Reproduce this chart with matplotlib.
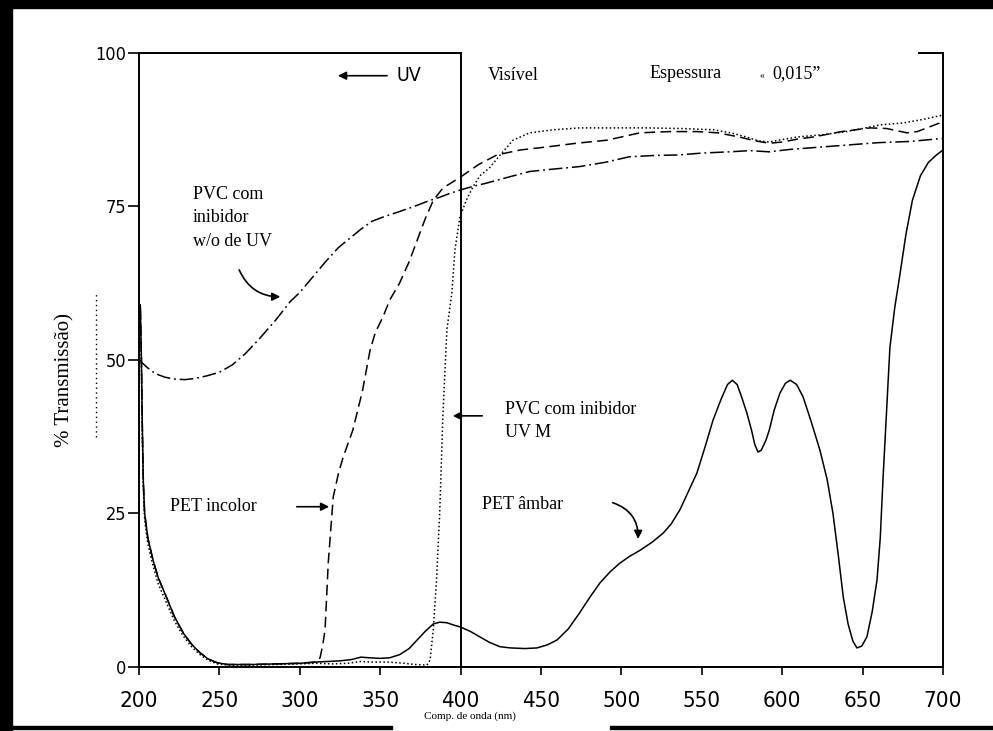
import matplotlib
matplotlib.use("Agg")
import matplotlib.pyplot as plt
from matplotlib import font_manager
from matplotlib.patches import Rectangle

# PET ambar (solid)
ambar_x = [200, 200.8, 201.5, 202, 202.7, 203.5, 205.5, 208.7, 212, 217, 222, 227.6, 233, 238,
           243, 248.5, 255, 270, 285, 300, 310, 318, 325, 332, 338, 343, 350, 356, 362, 368,
           373, 378, 383, 387, 391.5, 396, 400, 406, 412, 418, 424.5, 431, 440, 447.5, 454,
           460, 467, 474, 480, 486.7, 493, 499, 505, 511.6, 519, 526, 531, 536.4, 541, 547,
           552, 557, 562, 566, 569, 572, 575, 578, 581, 583, 585, 587, 590, 592, 595, 598.6,
           602, 605, 609, 613, 618, 623.5, 628, 631.6, 635, 638, 641, 644, 646.5, 649.5,
           652.7, 656, 659, 661, 662.7, 665, 667, 670, 673, 677, 681, 686, 691, 696, 700]
ambar_y = [57, 59, 50, 40, 30, 25, 21, 17.4, 14.5, 11.4, 8.2, 5.5, 3.6, 2.3,
           1.3, 0.7, 0.4, 0.4, 0.5, 0.6, 0.8, 0.9, 1.0, 1.2, 1.6, 1.5, 1.4, 1.5, 2.0, 3.0,
           4.4, 5.8, 7.0, 7.3, 7.2, 6.8, 6.5, 5.8, 4.9, 4.0, 3.3, 3.1, 3.0, 3.1, 3.6,
           4.4, 6.2, 8.8, 11.2, 13.7, 15.5, 16.9, 18.0, 19.0, 20.3, 21.8, 23.3, 25.6, 28.2, 31.6,
           35.8, 40.2, 43.6, 46.0, 46.7, 46.0, 43.8, 41.4, 38.5, 36.2, 35.0, 35.3, 37.0, 38.6, 41.8, 44.6,
           46.2, 46.7, 46.0, 44.0, 40.0, 35.3, 30.5, 25.0, 18.0, 11.4, 7.0, 4.2, 3.1, 3.4,
           4.9, 9.0, 14.2, 21.0, 30.5, 42.0, 52.0, 58.5, 63.5, 70.5, 76.0, 80.0, 82.2, 83.4, 84.2]

# PET incolor (dashed)
incolor_x = [200, 200.8, 201.5, 202, 202.7, 203.5, 205.5, 208.7, 212, 217, 222, 227.6, 233, 238,
             243, 248.5, 255, 270, 285, 300, 310, 312.6, 314.2, 315.7, 317.7, 320.8, 324, 327,
             333, 339, 343.7, 347, 351.7, 356, 362, 368, 373, 378, 383, 389, 400, 411, 422.6,
             437, 453.7, 472, 491, 511.6, 530, 547, 560, 573.7, 583, 592, 600, 610, 619, 637,
             654.6, 665, 672, 677.6, 684, 692, 700]
incolor_y = [57, 59, 50, 40, 30, 25, 21, 17.4, 14.5, 11.4, 8.2, 5.5, 3.6, 2.3,
             1.3, 0.7, 0.4, 0.4, 0.5, 0.6, 0.8, 1.5, 3.5, 6.0, 17.0, 27.7, 31.5, 34.2,
             38.6, 45.0, 51.6, 54.5, 57.0, 59.8, 62.5, 66.0, 69.5, 73.0, 76.0, 78.0, 79.8, 81.8, 83.4,
             84.2, 84.7, 85.3, 85.8, 87.0, 87.2, 87.2, 87.0, 86.3, 85.7, 85.3, 85.5, 86.0, 86.3, 87.2,
             87.8, 87.7, 87.3, 87.0, 87.2, 88.0, 88.8]

# PVC com inibidor UV M (dotted)
uvm_x = [200, 200.8, 201.5, 202, 202.7, 203.5, 205.5, 208.7, 212, 217, 222, 227.6, 233, 238,
         243, 248.5, 255, 270, 285, 300, 310, 320, 330, 338, 345, 355, 365, 372, 379, 381,
         383, 385, 387, 389, 391.5, 394.6, 396.5, 399.6, 403.5, 407.7, 412, 418, 425, 432.6,
         443, 458, 474, 495, 516, 537, 557, 568, 578, 585, 592, 600, 609, 625, 640, 650,
         661, 675, 688, 700]
uvm_y = [56, 58, 48, 38, 29, 24, 20, 16.5, 13.5, 10.5, 7.5, 5.0, 3.2, 2.0,
         1.1, 0.5, 0.3, 0.3, 0.4, 0.5, 0.6, 0.5, 0.6, 0.9, 0.8, 0.8, 0.6, 0.4, 0.3, 1.1,
         6.0, 14.0, 25.0, 41.0, 55.0, 61.0, 68.0, 73.3, 76.0, 78.2, 80.0, 81.3, 83.5, 85.8,
         87.0, 87.5, 87.8, 87.8, 87.8, 87.7, 87.5, 87.0, 86.3, 85.7, 85.5, 85.9, 86.3, 86.7, 87.2, 87.7,
         88.3, 88.6, 89.2, 89.9]

# PVC com inibidor w/o de UV (dash-dot)
wo_x = [200, 205, 210, 216, 222, 228.6, 235, 242, 250, 258, 266, 275, 285, 294, 300, 308, 316,
        324, 331, 338, 345, 352, 360, 370, 380, 387, 393, 400, 408, 416, 430, 443, 458, 474,
        490, 505, 520, 536, 550, 567, 580, 592, 605, 620, 640, 660, 680, 700]
wo_y = [50, 48.8, 47.8, 47.2, 46.9, 46.8, 47.0, 47.4, 48.0, 49.2, 51.0, 53.5, 56.5, 59.5, 61.0, 63.5, 66.0,
        68.3, 69.8, 71.3, 72.6, 73.3, 74.0, 74.9, 75.9, 76.5, 77.1, 77.7, 78.3, 78.8, 79.8, 80.7, 81.1, 81.5,
        82.2, 83.1, 83.3, 83.4, 83.7, 83.9, 84.1, 83.9, 84.3, 84.6, 85.0, 85.4, 85.6, 86.1]

xticks = [200, 250, 300, 350, 400, 450, 500, 550, 600, 650, 700]
yticks = [0, 25, 50, 75, 100]

serif = ["Liberation Serif", "DejaVu Serif"]

# look for a condensed sans face for the tick labels (plotter font is narrow)
narrow_fp = None
for f in font_manager.fontManager.ttflist:
    st = str(f.stretch)
    if ("condensed" in st or st in ("semi-condensed", "ultra-condensed")
            or "Narrow" in f.name or "Condensed" in f.name) and f.style == "normal" \
            and f.weight in (400, "normal", "regular"):
        narrow_fp = font_manager.FontProperties(fname=f.fname)
        break
if narrow_fp is None:
    narrow_fp = font_manager.FontProperties(family="Liberation Sans")

fig = plt.figure(figsize=(9.93, 7.31), dpi=100)
ax = fig.add_axes([0.140, 0.0876, 0.8096, 0.8399])

lw = 1.1
ax.plot(ambar_x, ambar_y, color="black", lw=lw)
ax.plot(incolor_x, incolor_y, color="black", lw=lw, ls=(0, (7, 3.5)))
ax.plot(uvm_x, uvm_y, color="black", lw=lw, ls=(0, (1, 1.6)))
ax.plot(wo_x, wo_y, color="black", lw=lw, ls=(0, (9, 2.5, 1.2, 2.5)))

ax.set_xlim(200, 700)
ax.set_ylim(0, 100)
ax.axvline(400, color="black", lw=1.4)

for s in ax.spines.values():
    s.set_linewidth(1.4)
ax.spines["top"].set_bounds(200, 400)
ax.axhline(100, xmin=0.97, xmax=1.0, color="black", lw=1.4, clip_on=False)

ax.set_xticks(xticks)
ax.set_yticks(yticks)
ax.tick_params(axis="x", direction="out", length=6, width=1.2, pad=11)
ax.tick_params(axis="y", direction="out", length=8, width=1.2, pad=1)
for lab in ax.get_xticklabels():
    lab.set_fontproperties(narrow_fp)
    lab.set_fontsize(16)
for lab in ax.get_yticklabels():
    lab.set_fontproperties(narrow_fp)
    lab.set_fontsize(13)

# annotations
ax.annotate("", xy=(322, 96.3), xytext=(356, 96.3),
            arrowprops=dict(arrowstyle="-|>", color="black", lw=1.2, mutation_scale=12))
ax.text(360.4, 96.3, "UV", fontproperties=narrow_fp, fontsize=14, va="center", ha="left")
ax.text(417, 96.4, "Visível", family=serif, fontsize=13, va="center", ha="left")
ax.text(517.8, 96.6, "Espessura", family=serif, fontsize=13, va="center", ha="left")
ax.text(586, 96.3, "«", family=serif, fontsize=7, va="center", ha="left")
ax.text(594, 96.6, "0,015”", family=serif, fontsize=13, va="center", ha="left")

ax.text(233.6, 73.2, "PVC com\ninibidor\nw/o de UV", family=serif, fontsize=13,
        va="center", ha="left", linespacing=1.5)
ax.annotate("", xy=(289.6, 60.3), xytext=(261.6, 65.1),
            arrowprops=dict(arrowstyle="-|>", color="black", lw=1.2, mutation_scale=12,
                            connectionstyle="arc3,rad=0.35"))

ax.text(219.3, 26.1, "PET incolor", family=serif, fontsize=13, va="center", ha="left")
ax.annotate("", xy=(320, 26.1), xytext=(296.4, 26.1),
            arrowprops=dict(arrowstyle="-|>", color="black", lw=1.2, mutation_scale=12))

ax.text(427.6, 40.1, "PVC com inibidor\nUV M", family=serif, fontsize=13,
        va="center", ha="left", linespacing=1.5)
ax.annotate("", xy=(393.4, 40.9), xytext=(415.2, 40.9),
            arrowprops=dict(arrowstyle="-|>", color="black", lw=1.2, mutation_scale=12))

ax.text(413.3, 26.4, "PET âmbar", family=serif, fontsize=13, va="center", ha="left")
ax.annotate("", xy=(510.3, 20.4), xytext=(492.9, 26.9),
            arrowprops=dict(arrowstyle="-|>", color="black", lw=1.2, mutation_scale=12,
                            connectionstyle="arc3,rad=-0.4"))

fig.text(0.0655, 0.48, "% Transmissão)", family=serif, fontsize=15, rotation=90,
         va="center", ha="center")
fig.add_artist(plt.Line2D([0.0967, 0.0967], [0.402, 0.599], color="black", lw=1.0,
                          ls=(0, (1, 2.5)), transform=fig.transFigure))
fig.text(0.473, 0.02, "Comp. de onda (nm)", family=serif, fontsize=8, va="center", ha="center")

# scan frame
fig.add_artist(Rectangle((0, 0), 0.012, 1, color="black", transform=fig.transFigure))
fig.add_artist(Rectangle((0, 0.989), 1, 0.011, color="black", transform=fig.transFigure))
fig.add_artist(Rectangle((0, 0.003), 0.395, 0.004, color="black", transform=fig.transFigure))
fig.add_artist(Rectangle((0.614, 0.003), 0.386, 0.004, color="black", transform=fig.transFigure))

fig.savefig("out.png", dpi=100)
